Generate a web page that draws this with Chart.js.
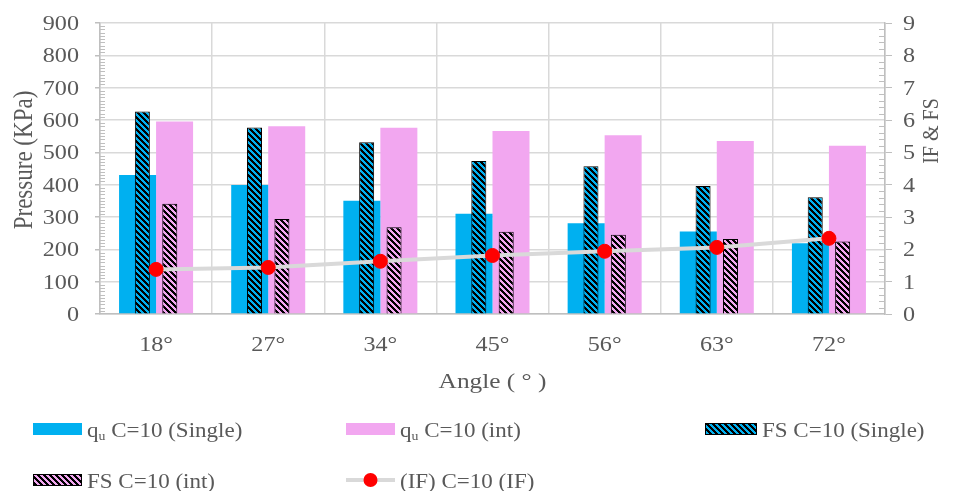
<!DOCTYPE html>
<html>
<head>
<meta charset="utf-8">
<title>Pressure, IF and FS by angle</title>
<script src="https://cdn.jsdelivr.net/npm/chart.js@4.4.1/dist/chart.umd.min.js"></script>
<style>
    html, body { margin: 0; padding: 0; background: #ffffff; }
    canvas { display: block; }
</style>
</head>
<body>
<canvas id="chart" width="953" height="491"></canvas>
<script>
'use strict';

// values
var angles = ['18°', '27°', '34°', '45°', '56°', '63°', '72°'];
var quSingle = [430, 399, 350, 310, 281, 255, 219];
var quInt = [595, 581, 576, 566, 553, 535, 520];
var fsSingle = [6.26, 5.77, 5.31, 4.73, 4.57, 3.96, 3.61];
var fsInt = [3.41, 2.94, 2.68, 2.54, 2.45, 2.32, 2.24];
var ifLine = [1.38, 1.44, 1.63, 1.81, 1.94, 2.06, 2.34];

var seriesLabels = ['q_u C=10 (Single)', 'q_u C=10 (int)', 'FS C=10 (Single)', 'FS C=10 (int)', '(IF) C=10 (IF)'];

var textColor = '#595959',
    gridColor = '#D9D9D9',
    axisColor = '#BFBFBF',
    fontFamily = '"Liberation Serif", "Times New Roman", serif',
    stretch = 1.15;

// Excel-like "wide downward diagonal" fill
var makeHatch = function (color) {
    var tile = document.createElement('canvas'),
        c, x, y;

    tile.width = 6;
    tile.height = 6;
    c = tile.getContext('2d');
    c.fillStyle = color;
    c.fillRect(0, 0, 6, 6);
    c.fillStyle = '#000000';

    for (y = 0; y < 6; y++) {
        for (x = 0; x < 6; x++) {
            if (((x - y) % 6 + 6) % 6 < 3) { c.fillRect(x, y, 1, 1); }
        }
    }

    return c.createPattern(tile, 'repeat');
};

var drawText = function (ctx, text, x, y, size, align, rotated) {
    var width;

    ctx.save();
    ctx.translate(x, y);
    ctx.scale(stretch, 1);
    if (rotated) { ctx.rotate(-Math.PI / 2); }
    ctx.font = size + 'px ' + fontFamily;
    ctx.fillStyle = textColor;
    ctx.textAlign = align;
    ctx.textBaseline = 'alphabetic';
    ctx.fillText(text, 0, 0);
    width = ctx.measureText(text).width * stretch;
    ctx.restore();

    return width;
};

// label with "q_u" drawn as q + subscript u
var drawLabel = function (ctx, label, x, y) {
    if (label.indexOf('q_u') === 0) {
        x += drawText(ctx, 'q', x, y, 20, 'left');
        x += drawText(ctx, 'u', x, y + 3, 12, 'left');
        label = label.slice(3);
    }
    drawText(ctx, label, x, y, 20, 'left');
};

var drawLegend = function (chart) {
    var ctx = chart.ctx,
        sets = chart.data.datasets,
        slots = [[33, 423, 49], [346, 423, 49], [705, 423, 52], [33, 474, 49], [346, 474, 49]];

    sets.forEach(function (ds, i) {
        var s = slots[i];

        ctx.save();
        if (ds.type === 'line') {
            ctx.strokeStyle = ds.borderColor;
            ctx.lineWidth = ds.borderWidth;
            ctx.beginPath();
            ctx.moveTo(s[0], s[1] + 6);
            ctx.lineTo(s[0] + s[2], s[1] + 6);
            ctx.stroke();
            ctx.fillStyle = ds.pointBackgroundColor;
            ctx.beginPath();
            ctx.arc(s[0] + s[2] / 2, s[1] + 6, ds.pointRadius, 0, Math.PI * 2);
            ctx.fill();
        } else {
            ctx.fillStyle = ds.backgroundColor;
            ctx.fillRect(s[0], s[1], s[2], 12);
            if (ds.borderWidth) {
                ctx.strokeStyle = ds.borderColor;
                ctx.lineWidth = 1;
                ctx.strokeRect(s[0] + 0.5, s[1] + 0.5, s[2] - 1, 11);
            }
        }
        ctx.restore();

        drawLabel(ctx, ds.label, s[0] + s[2] + 5, s[1] + 14);
    });
};

// the FS bars sit on their own, nudged sideways over the q bars
var barShift = {
    id: 'barShift',
    afterDatasetUpdate: function (chart, args) {
        var shift = chart.data.datasets[args.index].shift;

        if (!shift) { return; }
        args.meta.data.forEach(function (bar) { bar.x += shift; });
    }
};

var axisText = {
    id: 'axisText',
    afterDraw: function (chart) {
        var ctx = chart.ctx,
            x = chart.scales.x,
            y = chart.scales.y,
            y1 = chart.scales.y1,
            area = chart.chartArea,
            v;

        // minor tick marks, inside the plot
        ctx.save();
        ctx.strokeStyle = axisColor;
        ctx.lineWidth = 1;
        ctx.beginPath();
        for (v = 10; v < 900; v += 10) {
            if (v % 100 === 0) { continue; }
            ctx.moveTo(area.left, Math.round(y.getPixelForValue(v)) + 0.5);
            ctx.lineTo(area.left + 5, Math.round(y.getPixelForValue(v)) + 0.5);
        }
        for (v = 1; v < 45; v++) {
            if (v % 5 === 0) { continue; }
            ctx.moveTo(area.right - 6, Math.round(y1.getPixelForValue(v / 5)) + 0.5);
            ctx.lineTo(area.right, Math.round(y1.getPixelForValue(v / 5)) + 0.5);
        }
        ctx.stroke();
        ctx.restore();

        y.ticks.forEach(function (t) {
            drawText(ctx, String(t.value), area.left - 21, y.getPixelForValue(t.value) + 7, 21, 'right');
        });
        y1.ticks.forEach(function (t) {
            drawText(ctx, String(t.value), area.right + 18, y1.getPixelForValue(t.value) + 7, 21, 'left');
        });
        chart.data.labels.forEach(function (label, i) {
            drawText(ctx, label, x.getPixelForValue(i), 351, 21, 'center');
        });

        drawText(ctx, 'Angle ( ° )', (area.left + area.right) / 2, 388, 22, 'center');
        drawText(ctx, 'Pressure (KPa)', 32, 160, 23, 'center', true);
        drawText(ctx, 'IF & FS', 938, 131, 20, 'center', true);

        drawLegend(chart);
    }
};

new Chart(document.getElementById('chart'), {
    type: 'bar',
    data: {
        labels: angles,
        datasets: [{
            label: seriesLabels[0],
            data: quSingle,
            backgroundColor: '#00B0F0',
            borderWidth: 0,
            yAxisID: 'y',
            categoryPercentage: 0.66,
            barPercentage: 1.0,
            order: 2
        }, {
            label: seriesLabels[1],
            data: quInt,
            backgroundColor: '#F2A7F0',
            borderWidth: 0,
            yAxisID: 'y',
            categoryPercentage: 0.66,
            barPercentage: 1.0,
            order: 2
        }, {
            label: seriesLabels[2],
            data: fsSingle,
            backgroundColor: makeHatch('#00B0F0'),
            borderColor: '#000000',
            borderWidth: 1,
            yAxisID: 'y1',
            grouped: false,
            categoryPercentage: 1.0,
            barPercentage: 0.134,
            maxBarThickness: 15,
            shift: -13.7,
            order: 1
        }, {
            label: seriesLabels[3],
            data: fsInt,
            backgroundColor: makeHatch('#F2A7F0'),
            borderColor: '#000000',
            borderWidth: 1,
            yAxisID: 'y1',
            grouped: false,
            categoryPercentage: 1.0,
            barPercentage: 0.134,
            maxBarThickness: 15,
            shift: 13.7,
            order: 1
        }, {
            type: 'line',
            label: seriesLabels[4],
            data: ifLine,
            borderColor: '#D9D9D9',
            borderWidth: 4,
            pointRadius: 7,
            pointBackgroundColor: '#FF0000',
            pointBorderColor: '#FF0000',
            pointBorderWidth: 1,
            tension: 0,
            fill: false,
            yAxisID: 'y1',
            order: 0
        }]
    },
    options: {
        responsive: false,
        animation: false,
        layout: { padding: { top: 23, right: 0, bottom: 0, left: 0 } },
        plugins: {
            legend: { display: false },
            tooltip: { enabled: false }
        },
        scales: {
            x: {
                type: 'category',
                position: 'bottom',
                offset: true,
                grid: { offset: true, color: gridColor, lineWidth: 1.5, drawTicks: false },
                border: { color: axisColor, width: 1.5 },
                ticks: { display: false },
                afterFit: function (scale) { scale.height = 177; }
            },
            y: {
                position: 'left',
                min: 0,
                max: 900,
                ticks: { stepSize: 100, display: false },
                grid: { color: gridColor, lineWidth: 1.5, tickLength: 5, tickColor: axisColor },
                border: { color: axisColor, width: 1.5 },
                afterFit: function (scale) { scale.width = 100; }
            },
            y1: {
                position: 'right',
                min: 0,
                max: 9,
                ticks: { stepSize: 1, display: false },
                grid: { drawOnChartArea: false, tickLength: 7, tickColor: axisColor },
                border: { color: axisColor, width: 1.5 },
                afterFit: function (scale) { scale.width = 68; }
            }
        }
    },
    plugins: [barShift, axisText]
});
</script>
</body>
</html>
